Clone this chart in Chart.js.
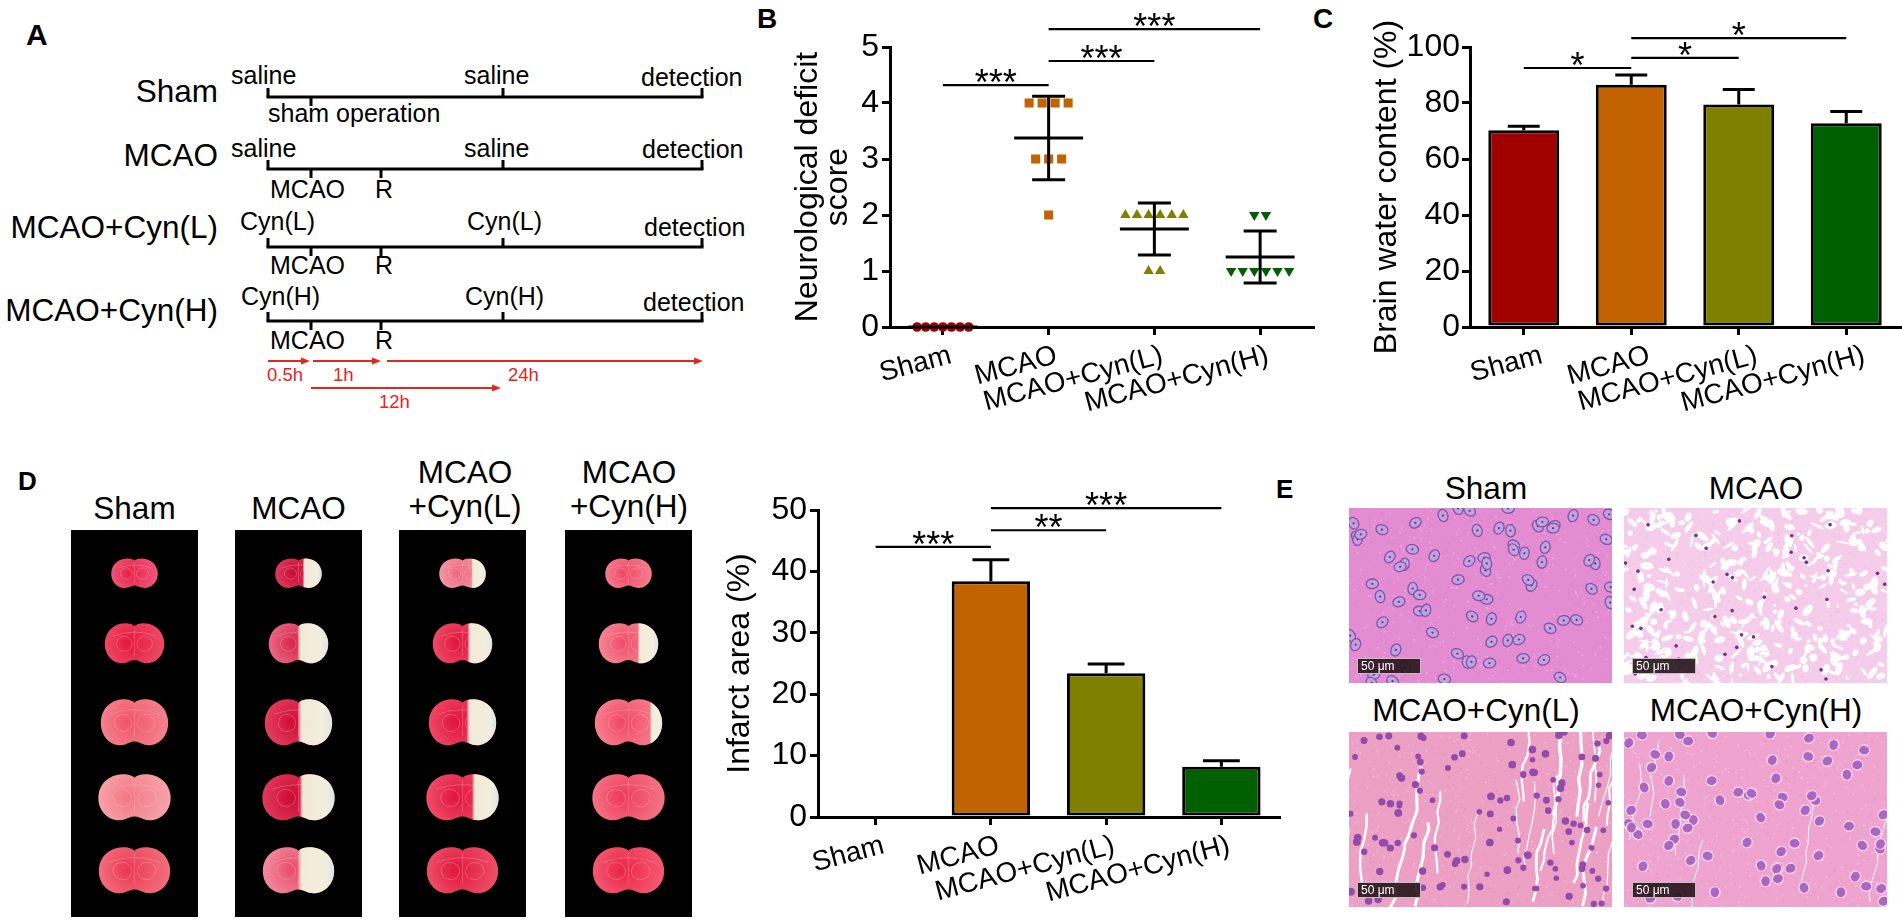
<!DOCTYPE html>
<html><head><meta charset="utf-8">
<script src="https://cdn.jsdelivr.net/npm/chart.js@4.4.1/dist/chart.umd.min.js"></script>
<style>
html,body{margin:0;padding:0;background:#fff;width:1902px;height:923px;overflow:hidden;}
canvas,svg{position:absolute;}
</style></head><body>
<svg id="overlay" width="1902" height="923" style="left:0;top:0"></svg>
<canvas id="photosD" width="660" height="410" style="left:50px;top:520px;width:660px;height:410px"></canvas>
<canvas id="histoE" width="560" height="420" style="left:1340px;top:500px;width:560px;height:420px"></canvas>
<canvas id="chartB" width="560" height="440" style="left:780px;top:0px"></canvas>
<canvas id="chartC" width="542" height="440" style="left:1360px;top:0px"></canvas>
<canvas id="chartD" width="600" height="483" style="left:700px;top:440px"></canvas>
<script>
// ---------------- data ----------------
const groups = ['Sham', 'MCAO', 'MCAO+Cyn(L)', 'MCAO+Cyn(H)'];
const groupColors = ['#a00000', '#c26200', '#808000', '#006000'];

// B: neurological deficit score (individual animals)
const scoreSham = [0, 0, 0, 0, 0, 0, 0];
const scoreMCAO = [4, 4, 4, 4, 3, 3, 3, 2];
const scoreCynL = [2, 2, 2, 2, 2, 2, 1, 1];
const scoreCynH = [2, 2, 1, 1, 1, 1, 1, 1];
const scoreTicks = [0, 1, 2, 3, 4, 5];
const scoreSig = [[0, 1, 4.32, '***'], [1, 2, 4.75, '***'], [1, 3, 5.32, '***']];

// C: brain water content (%)
const waterMean = [70.3, 86.5, 79.5, 72.8];
const waterErr = [1.4, 3.5, 5.3, 4.2];
const waterTicks = [0, 20, 40, 60, 80, 100];
const waterSig = [[0, 1, 92.5, '*'], [1, 2, 96.1, '*'], [1, 3, 103.2, '*']];

// D: infarct area (%)
const infarctMean = [0, 38.4, 23.4, 8.2];
const infarctErr = [0, 3.5, 1.5, 0.95];
const infarctTicks = [0, 10, 20, 30, 40, 50];
const infarctSig = [[0, 1, 44.0, '***'], [1, 2, 46.7, '**'], [1, 3, 50.3, '***']];

// D photos: pale (infarcted) fraction of each slice, 5 slices per group
const paleSham = [0, 0, 0, 0, 0];
const paleMCAO = [0.35, 0.47, 0.47, 0.45, 0.47];
const paleCynL = [0.25, 0.37, 0.4, 0.33, 0];
const paleCynH = [0, 0.3, 0.14, 0, 0];

// ---------------- shared style ----------------
const FONT = "'Liberation Sans', Arial, Helvetica, sans-serif";
Chart.defaults.font.family = FONT;
Chart.defaults.color = '#000';
const axisGrid = () => ({drawOnChartArea: false, drawTicks: true, tickLength: 8, lineWidth: 3, color: '#000', offset: false});
const axisBorder = () => ({display: true, width: 3, color: '#000'});
const xTickOpts = (off) => ({font: {size: 28}, color: '#000', minRotation: 15, maxRotation: 15, autoSkip: false, padding: 4, labelOffset: off});

const sigPlugin = {
  id: 'sig',
  afterDraw(chart, args, opts) {
    const {ctx} = chart, xs = chart.scales.x, ys = chart.scales.y;
    ctx.save();
    ctx.strokeStyle = '#000'; ctx.fillStyle = '#000'; ctx.lineWidth = 2.2;
    ctx.font = '36px ' + FONT; ctx.textAlign = 'center'; ctx.textBaseline = 'alphabetic';
    opts.items.forEach(([a, b, v, lab]) => {
      const x1 = xs.getPixelForValue(a), x2 = xs.getPixelForValue(b), y = ys.getPixelForValue(v);
      ctx.beginPath(); ctx.moveTo(x1, y); ctx.lineTo(x2, y); ctx.stroke();
      const m = ctx.measureText(lab);
      const base = y - 9 - (m.actualBoundingBoxDescent - m.actualBoundingBoxAscent) / 2;
      ctx.fillText(lab, (x1 + x2) / 2, base);
    });
    ctx.restore();
  }
};

const errorBars = {
  id: 'errorBars',
  afterDatasetsDraw(chart, args, opts) {
    const {ctx} = chart, ys = chart.scales.y, meta = chart.getDatasetMeta(0);
    const vals = chart.data.datasets[0].data;
    ctx.save(); ctx.strokeStyle = '#000'; ctx.lineWidth = 3;
    meta.data.forEach((bar, i) => {
      const e = opts.errors[i];
      if (!e) return;
      const yb = ys.getPixelForValue(vals[i]), yt = ys.getPixelForValue(vals[i] + e);
      const half = bar.width * opts.cap / 2;
      ctx.beginPath();
      ctx.moveTo(bar.x, yb); ctx.lineTo(bar.x, yt);
      ctx.moveTo(bar.x - half, yt); ctx.lineTo(bar.x + half, yt);
      ctx.stroke();
    });
    ctx.restore();
  }
};

const meanSD = {
  id: 'meanSD',
  afterDatasetsDraw(chart, args, opts) {
    const {ctx} = chart, xs = chart.scales.x, ys = chart.scales.y;
    const unit = xs.getPixelForValue(1) - xs.getPixelForValue(0);
    ctx.save(); ctx.strokeStyle = '#000'; ctx.lineWidth = 3;
    opts.groups.forEach((vals, i) => {
      const n = vals.length;
      const m = vals.reduce((a, b) => a + b, 0) / n;
      const sd = Math.sqrt(vals.reduce((a, b) => a + (b - m) * (b - m), 0) / (n - 1));
      const cx = xs.getPixelForValue(i);
      const hw = opts.meanHalf * unit, cw = opts.capHalf * unit;
      const ym = ys.getPixelForValue(m), yt = ys.getPixelForValue(m + sd), yb = ys.getPixelForValue(Math.max(0, m - sd));
      ctx.beginPath();
      ctx.moveTo(cx - hw, ym); ctx.lineTo(cx + hw, ym);
      if (sd > 0) {
        ctx.moveTo(cx, yt); ctx.lineTo(cx, yb);
        ctx.moveTo(cx - cw, yt); ctx.lineTo(cx + cw, yt);
        ctx.moveTo(cx - cw, yb); ctx.lineTo(cx + cw, yb);
      }
      ctx.stroke();
    });
    ctx.restore();
  }
};

// ---------------- B: scatter with mean ± SD ----------------
const B_PX_PER_GROUP = 105.75;
function spread(values, idx, stepPx) {
  const counts = {}, seen = {};
  values.forEach(v => counts[v] = (counts[v] || 0) + 1);
  return values.map(v => {
    seen[v] = seen[v] === undefined ? 0 : seen[v] + 1;
    return {x: idx + (seen[v] - (counts[v] - 1) / 2) * stepPx / B_PX_PER_GROUP, y: v};
  });
}
const scoreGroups = [scoreSham, scoreMCAO, scoreCynL, scoreCynH];
const markerStyles = [
  {pointStyle: 'circle', pointRadius: 4.8, step: 8.6, rot: 0},
  {pointStyle: 'rect', pointRadius: 6.4, step: 13, rot: 0},
  {pointStyle: 'triangle', pointRadius: 6, step: 11.6, rot: 0},
  {pointStyle: 'triangle', pointRadius: 6, step: 11.6, rot: 180}
];
new Chart(document.getElementById('chartB'), {
  type: 'scatter',
  data: {
    datasets: scoreGroups.map((vals, i) => ({
      data: spread(vals, i, markerStyles[i].step),
      pointStyle: markerStyles[i].pointStyle,
      pointRadius: markerStyles[i].pointRadius,
      pointRotation: markerStyles[i].rot,
      backgroundColor: groupColors[i], borderColor: groupColors[i], borderWidth: 0,
      showLine: false, clip: false
    }))
  },
  options: {
    responsive: false, animation: false, devicePixelRatio: 1,
    layout: {padding: {left: 0, top: 47, right: 27, bottom: 0}},
    plugins: {legend: {display: false}, tooltip: {enabled: false},
      meanSD: {groups: scoreGroups, meanHalf: 0.326, capHalf: 0.156},
      sig: {items: scoreSig}},
    scales: {
      x: {type: 'linear', min: -0.5, max: 3.5,
        afterBuildTicks: s => { s.ticks = groups.map((g, i) => ({value: i})); },
        afterFit: s => { s.height = 113; },
        ticks: Object.assign(xTickOpts(8), {callback: v => groups[v]}),
        grid: axisGrid(), border: axisBorder()},
      y: {min: 0, max: 5,
        afterBuildTicks: s => { s.ticks = scoreTicks.map(v => ({value: v})); },
        afterFit: s => { s.width = 110; },
        ticks: {font: {size: 32}, color: '#000', padding: 3},
        grid: axisGrid(), border: axisBorder(),
        title: {display: true, text: ['Neurological deficit', 'score'], color: '#000',
          font: {size: 32, lineHeight: 0.95}, padding: {top: 12.8, bottom: 0}}}
    }
  },
  plugins: [meanSD, sigPlugin]
});

// ---------------- C: brain water content ----------------
new Chart(document.getElementById('chartC'), {
  type: 'bar',
  data: {labels: groups, datasets: [{data: waterMean, backgroundColor: groupColors, borderColor: '#000',
    borderWidth: 3, borderSkipped: false, barPercentage: 0.66, categoryPercentage: 1}]},
  options: {
    responsive: false, animation: false, devicePixelRatio: 1,
    layout: {padding: {left: 0, top: 47, right: 2, bottom: 0}},
    plugins: {legend: {display: false}, tooltip: {enabled: false},
      errorBars: {errors: waterErr, cap: 0.45}, sig: {items: waterSig}},
    scales: {
      x: {afterFit: s => { s.height = 113; }, ticks: xTickOpts(18), grid: axisGrid(), border: axisBorder()},
      y: {min: 0, max: 100,
        afterBuildTicks: s => { s.ticks = waterTicks.map(v => ({value: v})); },
        afterFit: s => { s.width = 110; },
        ticks: {font: {size: 32}, color: '#000', padding: 2},
        grid: axisGrid(), border: axisBorder(),
        title: {display: true, text: 'Brain water content (%)', color: '#000',
          font: {size: 32, lineHeight: 1}, padding: {top: 11, bottom: 0}}}
    }
  },
  plugins: [errorBars, sigPlugin]
});

// ---------------- D: infarct area ----------------
new Chart(document.getElementById('chartD'), {
  type: 'bar',
  data: {labels: groups, datasets: [{data: infarctMean, backgroundColor: groupColors, borderColor: '#000',
    borderWidth: 3, borderSkipped: false, barPercentage: 0.68, categoryPercentage: 1}]},
  options: {
    responsive: false, animation: false, devicePixelRatio: 1,
    layout: {padding: {left: 0, top: 70, right: 21, bottom: 0}},
    plugins: {legend: {display: false}, tooltip: {enabled: false},
      errorBars: {errors: infarctErr, cap: 0.47}, sig: {items: infarctSig}},
    scales: {
      x: {afterFit: s => { s.height = 106; }, ticks: xTickOpts(8), grid: axisGrid(), border: axisBorder()},
      y: {min: 0, max: 50,
        afterBuildTicks: s => { s.ticks = infarctTicks.map(v => ({value: v})); },
        afterFit: s => { s.width = 118; },
        ticks: {font: {size: 32}, color: '#000', padding: 3},
        grid: axisGrid(), border: axisBorder(),
        title: {display: true, text: 'Infarct area (%)', color: '#000',
          font: {size: 32, lineHeight: 1}, padding: {top: 24, bottom: 0}}}
    }
  },
  plugins: [errorBars, sigPlugin]
});

// ---------------- SVG overlay: panel A diagram, letters, titles ----------------
const svgNS = 'http://www.w3.org/2000/svg';
const svg = document.getElementById('overlay');
function T(txt, x, y, o = {}) {
  const t = document.createElementNS(svgNS, 'text');
  t.textContent = txt;
  t.setAttribute('x', x); t.setAttribute('y', y);
  t.setAttribute('font-family', FONT);
  t.setAttribute('font-size', o.size || 25);
  t.setAttribute('text-anchor', o.anchor || 'start');
  t.setAttribute('dominant-baseline', o.base || 'central');
  t.setAttribute('fill', o.color || '#000');
  if (o.weight) t.setAttribute('font-weight', o.weight);
  svg.appendChild(t);
}
function Ln(x1, y1, x2, y2, w = 3, c = '#000') {
  const l = document.createElementNS(svgNS, 'line');
  l.setAttribute('x1', x1); l.setAttribute('y1', y1); l.setAttribute('x2', x2); l.setAttribute('y2', y2);
  l.setAttribute('stroke', c); l.setAttribute('stroke-width', w);
  svg.appendChild(l);
}
function Poly(pts, c) {
  const p = document.createElementNS(svgNS, 'polygon');
  p.setAttribute('points', pts.map(q => q.join(',')).join(' '));
  p.setAttribute('fill', c);
  svg.appendChild(p);
}

// panel letters
T('A', 26, 45, {size: 30, weight: 'bold', base: 'alphabetic'});
T('B', 757, 28, {size: 28, weight: 'bold', base: 'alphabetic'});
T('C', 1313, 28, {size: 28, weight: 'bold', base: 'alphabetic'});
T('D', 18, 490, {size: 26, weight: 'bold', base: 'alphabetic'});
T('E', 1276, 498, {size: 26, weight: 'bold', base: 'alphabetic'});

// panel A timelines
const X0 = 268, XM = 311, XR = 381, X12 = 503, XEND = 702;
const rowsA = [
  {label: 'Sham', ly: 91, line: 97, drug: 'saline', d1: 231, d2: 464, dy: 75, det: 641, detY: 77, subY: 113, sham: true},
  {label: 'MCAO', ly: 155, line: 169, drug: 'saline', d1: 231, d2: 464, dy: 148, det: 642, detY: 149, subY: 189},
  {label: 'MCAO+Cyn(L)', ly: 227, line: 247, drug: 'Cyn(L)', d1: 240, d2: 467, dy: 221, det: 644, detY: 227, subY: 265},
  {label: 'MCAO+Cyn(H)', ly: 310, line: 321, drug: 'Cyn(H)', d1: 241, d2: 465, dy: 296, det: 643, detY: 302, subY: 340}
];
rowsA.forEach(r => {
  T(r.label, 218, r.ly, {size: 31.5, anchor: 'end'});
  Ln(X0 - 1.5, r.line, XEND + 1.5, r.line, 3);
  Ln(X0, r.line - 9, X0, r.line, 3);
  Ln(X12, r.line - 9, X12, r.line, 3);
  Ln(XEND, r.line - 9, XEND, r.line, 3);
  Ln(XM, r.line, XM, r.line + 9, 3);
  T(r.drug, r.d1, r.dy, {size: 25});
  T(r.drug, r.d2, r.dy, {size: 25});
  T('detection', r.det, r.detY, {size: 25});
  if (r.sham) {
    T('sham operation', 268, r.subY, {size: 25});
  } else {
    Ln(XR, r.line, XR, r.line + 9, 3);
    T('MCAO', 270, r.subY, {size: 25});
    T('R', 375, r.subY, {size: 25});
  }
});
const RED = '#e8241e';
const arrowsA = [
  [268, 310, 361, '0.5h', 267, 374],
  [313, 381, 361, '1h', 333, 374],
  [387, 703, 361, '24h', 508, 374],
  [311, 501, 388, '12h', 379, 401]
];
arrowsA.forEach(([x1, x2, y, lab, lx, ly]) => {
  Ln(x1, y, x2 - 6, y, 1.8, RED);
  Poly([[x2, y], [x2 - 9, y - 3.6], [x2 - 9, y + 3.6]], RED);
  T(lab, lx, ly, {size: 18.5, color: RED});
});

// D photo column titles
T('Sham', 134.5, 508, {size: 31.5, anchor: 'middle'});
T('MCAO', 298.5, 508, {size: 31.5, anchor: 'middle'});
T('MCAO', 465, 472, {size: 31.5, anchor: 'middle'});
T('+Cyn(L)', 465, 506, {size: 31.5, anchor: 'middle'});
T('MCAO', 629, 472, {size: 31.5, anchor: 'middle'});
T('+Cyn(H)', 629, 506, {size: 31.5, anchor: 'middle'});

// E titles
T('Sham', 1486, 488, {size: 31.5, anchor: 'middle'});
T('MCAO', 1756, 488, {size: 31.5, anchor: 'middle'});
T('MCAO+Cyn(L)', 1476, 710, {size: 31.5, anchor: 'middle'});
T('MCAO+Cyn(H)', 1756, 710, {size: 31.5, anchor: 'middle'});

// ---------------- D photos (TTC-stained slices, schematic) ----------------
(function () {
  const cv = document.getElementById('photosD'), ctx = cv.getContext('2d');
  ctx.translate(-50, -520);
  const colX = [71, 235, 399, 565], colW = 127, top = 530, bottom = 917;
  const rowY = [573, 643, 722, 797, 870];
  const rowSize = [[47, 31], [60, 42], [68, 48], [73, 48], [72, 48]];
  const pale = [paleSham, paleMCAO, paleCynL, paleCynH];
  const tint = [
    [['#e8244a', '#f0587a'], ['#e41a40', '#ee4a66'], ['#f0566a', '#f5838f'], ['#f27a86', '#f7a4aa'], ['#ea3a54', '#f3707e']],
    [['#c80f38', '#de3c5e'], ['#d82a50', '#ea6a86'], ['#d0103a', '#e4405e'], ['#cc0e36', '#e03a5a'], ['#e85070', '#f28ea0']],
    [['#ee6a80', '#f59aa8'], ['#e0183f', '#ee4c68'], ['#e0163e', '#ee4a66'], ['#e2183f', '#ef4e6a'], ['#e01a40', '#ee5068']],
    [['#f04a68', '#f6808e'], ['#f0506c', '#f68896'], ['#f24a66', '#f7808e'], ['#ee3c5c', '#f57686'], ['#ec2848', '#f45a72']]
  ];
  function slicePath(cx, cy, w, h) {
    const rx = w / 2, ry = h / 2;
    ctx.beginPath();
    ctx.moveTo(cx, cy - ry * 0.8);
    ctx.bezierCurveTo(cx + rx * 0.15, cy - ry * 1.05, cx + rx * 0.85, cy - ry * 1.05, cx + rx * 0.98, cy - ry * 0.15);
    ctx.bezierCurveTo(cx + rx * 1.05, cy + ry * 0.5, cx + rx * 0.75, cy + ry * 0.97, cx + rx * 0.42, cy + ry * 0.97);
    ctx.bezierCurveTo(cx + rx * 0.22, cy + ry * 0.97, cx + rx * 0.1, cy + ry * 0.78, cx, cy + ry * 0.82);
    ctx.bezierCurveTo(cx - rx * 0.1, cy + ry * 0.78, cx - rx * 0.22, cy + ry * 0.97, cx - rx * 0.42, cy + ry * 0.97);
    ctx.bezierCurveTo(cx - rx * 0.75, cy + ry * 0.97, cx - rx * 1.05, cy + ry * 0.5, cx - rx * 0.98, cy - ry * 0.15);
    ctx.bezierCurveTo(cx - rx * 0.85, cy - ry * 1.05, cx - rx * 0.15, cy - ry * 1.05, cx, cy - ry * 0.8);
    ctx.closePath();
  }
  colX.forEach((x, c) => {
    ctx.fillStyle = '#000';
    ctx.fillRect(x, top, colW, bottom - top);
    const cx = x + colW / 2;
    rowY.forEach((cy, r) => {
      const [w, h] = rowSize[r];
      slicePath(cx, cy, w, h);
      const g = ctx.createRadialGradient(cx - w * 0.1, cy, 2, cx, cy, w / 2);
      g.addColorStop(0, tint[c][r][0]); g.addColorStop(1, tint[c][r][1]);
      ctx.fillStyle = g; ctx.fill();
      ctx.save(); ctx.clip();
      // faint internal structures
      ctx.strokeStyle = 'rgba(255,205,215,0.28)'; ctx.lineWidth = 1;
      ctx.beginPath(); ctx.ellipse(cx - w * 0.17, cy + h * 0.02, w * 0.13, h * 0.18, 0.3, 0, Math.PI * 2); ctx.stroke();
      ctx.beginPath(); ctx.ellipse(cx + w * 0.17, cy + h * 0.02, w * 0.13, h * 0.18, -0.3, 0, Math.PI * 2); ctx.stroke();
      ctx.beginPath(); ctx.moveTo(cx - w * 0.36, cy - h * 0.16); ctx.quadraticCurveTo(cx, cy - h * 0.36, cx + w * 0.36, cy - h * 0.16); ctx.stroke();
      ctx.beginPath(); ctx.moveTo(cx, cy - h * 0.35); ctx.lineTo(cx, cy + h * 0.3); ctx.stroke();
      const f = pale[c][r];
      if (f > 0) {
        const xs = cx + w / 2 - w * f;
        const pg = ctx.createLinearGradient(xs - 3, 0, cx + w / 2, 0);
        pg.addColorStop(0, 'rgba(244,236,222,0)');
        pg.addColorStop(0.1, 'rgba(244,238,220,0.97)');
        pg.addColorStop(0.75, 'rgba(242,238,222,1)');
        pg.addColorStop(1, 'rgba(218,228,236,1)');
        ctx.fillStyle = pg;
        ctx.fillRect(xs - 3, cy - h, w, h * 2);
      }
      ctx.restore();
    });
  });
})();

// ---------------- E histology (H&E, schematic texture) ----------------
(function () {
  const cv = document.getElementById('histoE'), ctx = cv.getContext('2d');
  ctx.translate(-1340, -500);
  const hs = n => { const s = Math.sin(n * 12.9898 + 78.233) * 43758.5453; return s - Math.floor(s); };
  const W = 263, H = 175;
  const tiles = [[1349, 508, 'sham'], [1624, 508, 'mcao'], [1349, 732, 'cynl'], [1624, 732, 'cynh']];
  tiles.forEach(([x, y, kind], t) => {
    ctx.save();
    ctx.beginPath(); ctx.rect(x, y, W, H); ctx.clip();
    const base = {sham: '#e48cd2', mcao: '#f5cdea', cynl: '#eca0c4', cynh: '#eea4cf'}[kind];
    ctx.fillStyle = base; ctx.fillRect(x, y, W, H);
    const seed = t * 1000 + 7;
    // fine speckle
    for (let k = 0; k < 600; k++) {
      ctx.fillStyle = hs(seed + k * 5) > 0.5 ? 'rgba(255,235,250,0.35)' : 'rgba(200,110,180,0.16)';
      ctx.fillRect(x + hs(seed + k * 5 + 1) * W, y + hs(seed + k * 5 + 2) * H, 1.5, 1.5);
    }
    if (kind === 'mcao') {
      for (let k = 0; k < 420; k++) {
        ctx.fillStyle = 'rgba(255,255,255,0.93)';
        ctx.beginPath();
        ctx.ellipse(x + hs(seed + k * 7 + 1) * W, y + hs(seed + k * 7 + 2) * H, 1.5 + hs(seed + k * 7 + 3) * 6, 1 + hs(seed + k * 7 + 4) * 3, hs(seed + k * 7 + 5) * 3.14, 0, Math.PI * 2);
        ctx.fill();
      }
      for (let k = 0; k < 38; k++) {
        ctx.fillStyle = '#74308f';
        ctx.beginPath(); ctx.arc(x + hs(seed + k * 9 + 400) * W, y + hs(seed + k * 9 + 401) * H, 1.8, 0, Math.PI * 2); ctx.fill();
      }
    }
    if (kind === 'cynl' || kind === 'cynh') {
      const nCr = kind === 'cynl' ? 28 : 7;
      ctx.strokeStyle = 'rgba(255,255,255,0.95)';
      for (let k = 0; k < nCr; k++) {
        ctx.lineWidth = kind === 'cynl' ? 1 + hs(seed + k * 11) * 2.6 : 1;
        let px = x - 20 + hs(seed + k * 11 + 1) * (W + 60), py = y - 20 + hs(seed + k * 11 + 2) * H * 0.8;
        ctx.beginPath(); ctx.moveTo(px, py);
        for (let s = 0; s < 7; s++) {
          px += -5 + hs(seed + k * 11 + s + 3) * 7; py += 7 + hs(seed + k * 11 + s + 20) * 9;
          ctx.lineTo(px, py);
        }
        ctx.stroke();
      }
    }
    if (kind === 'sham') {
      for (let k = 0; k < 78; k++) {
        const nx = x + hs(seed + k * 13 + 1) * W, ny = y + hs(seed + k * 13 + 2) * H;
        ctx.beginPath(); ctx.ellipse(nx, ny, 6.2, 4.8, hs(seed + k * 13 + 3) * 3.14, 0, Math.PI * 2);
        ctx.fillStyle = '#c3a1dd'; ctx.fill();
        ctx.strokeStyle = '#7f54ad'; ctx.lineWidth = 1.3; ctx.stroke();
        ctx.fillStyle = '#5e3484'; ctx.beginPath(); ctx.arc(nx, ny, 1.1, 0, Math.PI * 2); ctx.fill();
      }
    }
    if (kind === 'cynl') {
      for (let k = 0; k < 115; k++) {
        ctx.fillStyle = '#924aab';
        ctx.beginPath(); ctx.arc(x + hs(seed + k * 17 + 1) * W, y + hs(seed + k * 17 + 2) * H, 2.7 + hs(seed + k * 17 + 3) * 1.2, 0, Math.PI * 2); ctx.fill();
      }
    }
    if (kind === 'cynh') {
      for (let k = 0; k < 75; k++) {
        const nx = x + hs(seed + k * 19 + 1) * W, ny = y + hs(seed + k * 19 + 2) * H;
        ctx.fillStyle = 'rgba(250,215,235,0.9)';
        ctx.beginPath(); ctx.arc(nx, ny, 6, 0, Math.PI * 2); ctx.fill();
        ctx.fillStyle = '#aa66c2';
        ctx.beginPath(); ctx.ellipse(nx, ny, 4.3, 5, hs(seed + k * 19 + 3) * 3.14, 0, Math.PI * 2); ctx.fill();
      }
    }
    // scale bar
    ctx.fillStyle = 'rgba(38,20,26,0.9)';
    ctx.fillRect(x + 8, y + H - 25, 64, 16);
    ctx.strokeStyle = 'rgba(210,210,210,0.9)'; ctx.lineWidth = 1;
    ctx.strokeRect(x + 8.5, y + H - 24.5, 63, 15);
    ctx.fillStyle = '#fff'; ctx.font = '12px ' + FONT; ctx.textBaseline = 'middle';
    ctx.fillText('50 \u03bcm', x + 12, y + H - 16.5);
    ctx.restore();
  });
})();
</script>
</body></html>
